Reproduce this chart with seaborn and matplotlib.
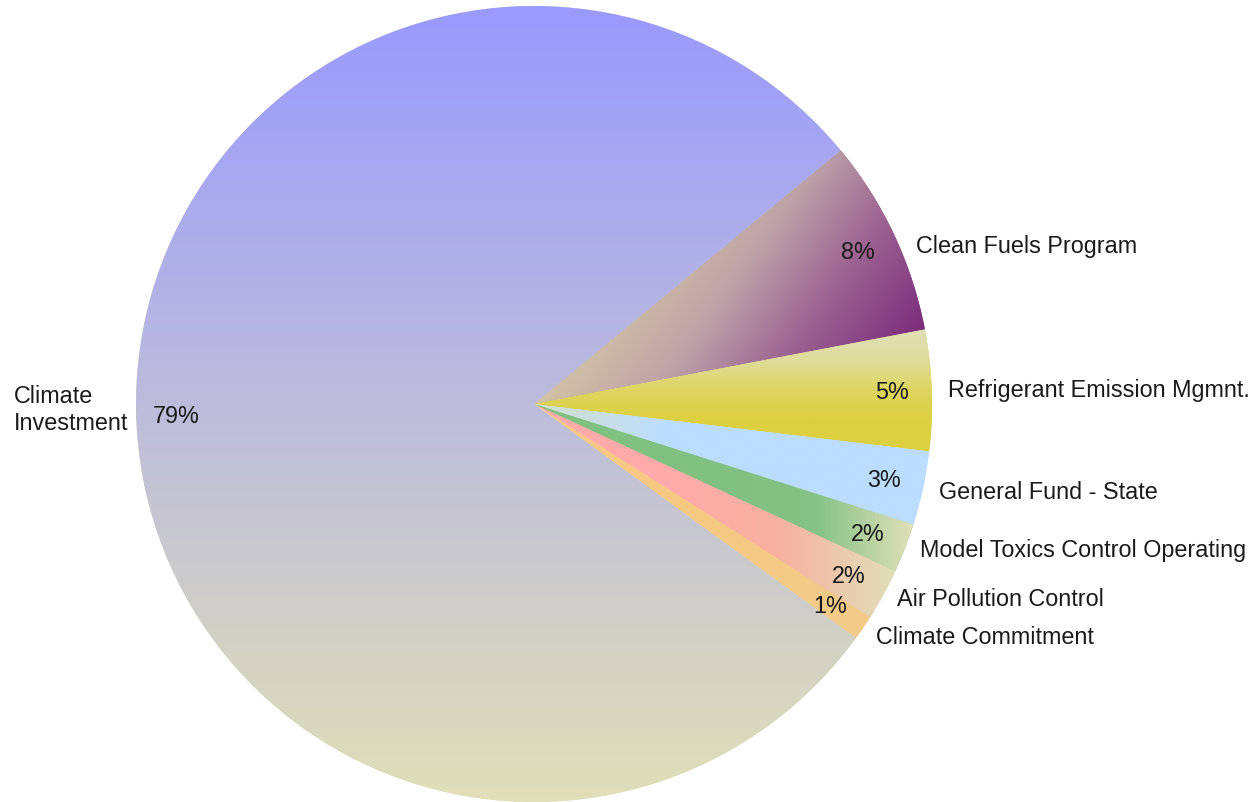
import numpy as np
import seaborn as sns
import matplotlib.pyplot as plt

# funding share by source (percent), clockwise from the upper right
sources = ['Clean Fuels Program', 'Refrigerant Emission Mgmnt.', 'General Fund - State',
           'Model Toxics Control Operating', 'Air Pollution Control', 'Climate Commitment',
           'Climate\nInvestment']
shares = [8.0, 4.9, 3.0, 2.0, 2.1, 1.0, 79.0]

# gradient stops per slice and the direction the gradient runs (degrees)
gradients = [
    ['#D2C2A6', '#BDA3A8', '#9A6090', '#7B2D7B'],
    ['#E0DFB8', '#DFDC9C', '#DDD560', '#DCD040', '#DCD040'],
    ['#D5E0CC', '#BBDDFF', '#BBDDFF', '#BBDDFF'],
    ['#80C080', '#80C080', '#80C080', '#86C386', '#E0DFB8'],
    ['#FFAAAA', '#FFAAAA', '#F8B0A0', '#E0DFB8'],
    ['#F8C888', '#F5C880', '#F2CC8C'],
    ['#9999FF', '#E0DFB8'],
]
directions = [-35, -90, 0, 0, 0, 0, -90]

sns.set_theme(style='white')
plt.rcParams['font.family'] = ['Liberation Sans', 'DejaVu Sans']

W, H = 1258, 803
cx, cy, R = 534, 405, 398
fig = plt.figure(figsize=(W / 100, H / 100), dpi=100)
ax = fig.add_axes([(cx - R) / W, (H - cy - R) / H, 2 * R / W, 2 * R / H])


def paint_gradient(ax, wedge, stops, angle):
    verts = wedge.get_path().vertices
    x0, y0 = verts.min(axis=0)
    x1, y1 = verts.max(axis=0)
    X, Y = np.meshgrid(np.linspace(x0, x1, 300), np.linspace(y0, y1, 300))
    d = np.deg2rad(angle)
    proj = X * np.cos(d) + Y * np.sin(d)
    vproj = verts[:, 0] * np.cos(d) + verts[:, 1] * np.sin(d)
    t = np.clip((proj - vproj.min()) / (vproj.max() - vproj.min()), 0, 1)
    cmap = sns.blend_palette(stops, n_colors=256, as_cmap=True)
    im = ax.imshow(t, cmap=cmap, vmin=0, vmax=1, extent=(x0, x1, y0, y1),
                   origin='lower', aspect='auto', interpolation='bilinear', zorder=1.5)
    im.set_clip_path(wedge)
    wedge.set_facecolor(stops[len(stops) // 2])


wedges, texts, autotexts = ax.pie(
    shares, labels=sources, startangle=39.6, counterclock=False,
    autopct='%1.0f%%', pctdistance=0.9, labeldistance=1.04, radius=1,
    wedgeprops=dict(linewidth=0),
    textprops=dict(fontsize=16.8, color='#1a1a1a'))

for w, stops, ang in zip(wedges, gradients, directions):
    paint_gradient(ax, w, stops, ang)

# small nudges so the outside labels sit where the original places them
x, y = texts[0].get_position()
texts[0].set_position((x + 0.02, y - 0.045))
x, y = texts[-1].get_position()
texts[-1].set_position((x + 0.02, y + 0.02))
texts[-1].set_multialignment('left')
for t in texts[3:5]:
    x, y = t.get_position()
    t.set_position((x, y + 0.01))

ax.set_xlim(-1, 1)
ax.set_ylim(-1, 1)
ax.set_aspect('equal')
ax.axis('off')

fig.savefig('out.png', dpi=100)
